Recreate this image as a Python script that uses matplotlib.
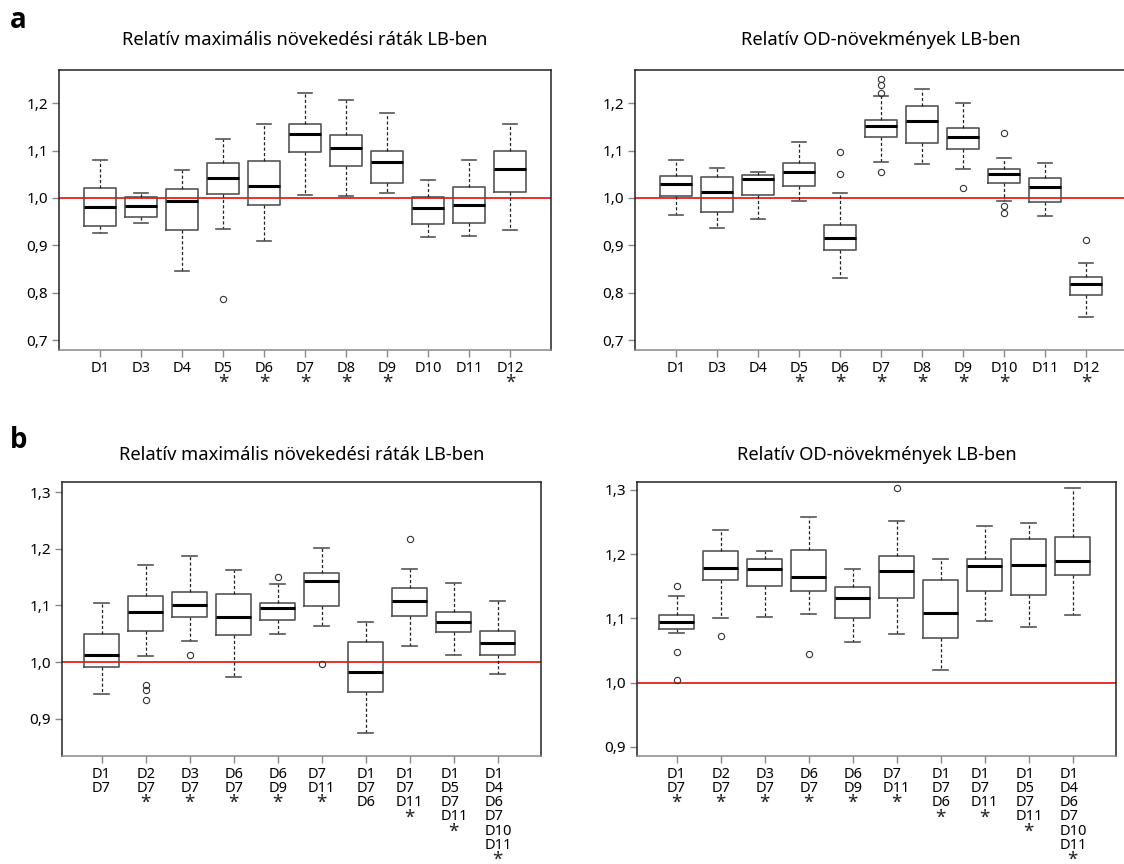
#!/usr/bin/env python3
"""
Relative growth rates and OD increments of deletion strains in LB (boxplots).
"""

import matplotlib
matplotlib.use("Agg")
import matplotlib.pyplot as plt

plt.rcParams['font.family'] = ['Noto Sans', 'DejaVu Sans']

# ---- panel a: single deletions ----
a_labels = ['D1', 'D3', 'D4', 'D5', 'D6', 'D7', 'D8', 'D9', 'D10', 'D11', 'D12']
a_rate_stars = [0, 0, 0, 1, 1, 1, 1, 1, 0, 0, 1]
a_od_stars = [0, 0, 0, 1, 1, 1, 1, 1, 1, 0, 1]

# relative max growth rate
a_rate_whislo = [0.927, 0.948, 0.846, 0.934, 0.910, 1.007, 1.004, 1.011, 0.917, 0.920, 0.933]
a_rate_q1 = [0.940, 0.959, 0.933, 1.009, 0.984, 1.096, 1.068, 1.032, 0.944, 0.948, 1.013]
a_rate_med = [0.980, 0.983, 0.994, 1.042, 1.025, 1.135, 1.106, 1.075, 0.978, 0.984, 1.061]
a_rate_q3 = [1.021, 1.002, 1.018, 1.074, 1.077, 1.157, 1.133, 1.100, 1.002, 1.024, 1.099]
a_rate_whishi = [1.081, 1.011, 1.059, 1.124, 1.157, 1.221, 1.206, 1.180, 1.038, 1.081, 1.157]
a_rate_fliers = [[], [], [], [0.787], [], [], [], [], [], [], []]

# relative OD increment
a_od_whislo = [0.965, 0.937, 0.955, 0.994, 0.831, 1.075, 1.071, 1.061, 0.994, 0.961, 0.749]
a_od_q1 = [1.004, 0.971, 1.006, 1.025, 0.891, 1.128, 1.116, 1.104, 1.032, 0.992, 0.795]
a_od_med = [1.030, 1.013, 1.039, 1.055, 0.915, 1.152, 1.163, 1.128, 1.051, 1.023, 0.818]
a_od_q3 = [1.047, 1.045, 1.049, 1.074, 0.943, 1.164, 1.195, 1.148, 1.061, 1.041, 0.834]
a_od_whishi = [1.080, 1.063, 1.054, 1.118, 1.011, 1.215, 1.229, 1.201, 1.085, 1.074, 0.863]
a_od_fliers = [[], [], [], [], [1.097, 1.051], [1.252, 1.239, 1.222, 1.054], [],
               [1.020], [1.136, 0.983, 0.968], [], [0.912]]

# ---- panel b: combined deletions ----
b_labels = ['D1\nD7', 'D2\nD7', 'D3\nD7', 'D6\nD7', 'D6\nD9', 'D7\nD11',
            'D1\nD7\nD6', 'D1\nD7\nD11', 'D1\nD5\nD7\nD11', 'D1\nD4\nD6\nD7\nD10\nD11']
b_rate_stars = [0, 1, 1, 1, 1, 1, 0, 1, 1, 1]
b_od_stars = [1, 1, 1, 1, 1, 1, 1, 1, 1, 1]

b_rate_whislo = [0.943, 1.010, 1.038, 0.973, 1.049, 1.064, 0.874, 1.029, 1.012, 0.979]
b_rate_q1 = [0.992, 1.055, 1.080, 1.047, 1.075, 1.099, 0.947, 1.082, 1.053, 1.012]
b_rate_med = [1.012, 1.088, 1.100, 1.079, 1.096, 1.143, 0.982, 1.108, 1.071, 1.034]
b_rate_q3 = [1.050, 1.117, 1.123, 1.121, 1.105, 1.158, 1.035, 1.131, 1.088, 1.055]
b_rate_whishi = [1.105, 1.171, 1.187, 1.163, 1.138, 1.201, 1.070, 1.164, 1.140, 1.108]
b_rate_fliers = [[], [0.959, 0.950, 0.933], [1.012], [], [1.151], [0.997], [],
                 [1.218], [], []]

b_od_whislo = [1.077, 1.101, 1.102, 1.106, 1.064, 1.076, 1.019, 1.096, 1.086, 1.105]
b_od_q1 = [1.084, 1.159, 1.151, 1.142, 1.100, 1.132, 1.069, 1.142, 1.137, 1.168]
b_od_med = [1.095, 1.178, 1.177, 1.165, 1.132, 1.174, 1.109, 1.181, 1.183, 1.189]
b_od_q3 = [1.105, 1.204, 1.193, 1.206, 1.149, 1.197, 1.160, 1.192, 1.223, 1.227]
b_od_whishi = [1.134, 1.237, 1.205, 1.258, 1.177, 1.252, 1.193, 1.244, 1.249, 1.302]
b_od_fliers = [[1.150, 1.047, 1.004], [1.072], [], [1.045], [], [1.302], [], [], [], []]

title_rate = 'Relatív maximális növekedési ráták LB-ben'
title_od = 'Relatív OD-növekmények LB-ben'

a_yticks = [0.7, 0.8, 0.9, 1.0, 1.1, 1.2]
b_yticks = [0.9, 1.0, 1.1, 1.2, 1.3]

W, H = 1124, 864
TICK_FS = 10.5
LINESP = 0.92


def make_stats(lo, q1, med, q3, hi, fliers):
    return [dict(whislo=lo[i], q1=q1[i], med=med[i], q3=q3[i], whishi=hi[i],
                 fliers=fliers[i]) for i in range(len(med))]


def draw_panel(ax, stats, labels, yticks, ylim, xlim, title, tpad):
    pos = list(range(1, len(stats) + 1))
    ax.axhline(1.0, color='#e8201c', lw=1.3, zorder=1)
    ax.bxp(stats, positions=pos, widths=0.8, capwidths=0.34, manage_ticks=False,
           boxprops=dict(color='#555555', lw=1.2),
           medianprops=dict(color='black', lw=2.2),
           whiskerprops=dict(color='#222222', lw=0.9, ls=(0, (2.5, 1.8))),
           capprops=dict(color='#555555', lw=1.2),
           flierprops=dict(marker='o', mfc='none', mec='#333333', ms=4.5, mew=0.8))
    ax.set_xlim(*xlim)
    ax.set_ylim(*ylim)
    ax.set_yticks(yticks)
    ax.set_yticklabels([f'{t:.1f}'.replace('.', ',') for t in yticks], fontsize=11)
    ax.set_xticks(pos)
    ax.set_xticklabels(labels, fontsize=TICK_FS, multialignment='left', linespacing=LINESP)
    ax.tick_params(axis='both', length=5, width=1.0, color='#888888', pad=3)
    for side in ['top', 'right', 'left']:
        ax.spines[side].set_color('#222222')
        ax.spines[side].set_linewidth(1.1)
    ax.spines['bottom'].set_color('#888888')
    ax.spines['bottom'].set_linewidth(1.1)
    ax.set_title(title, fontsize=13.2, pad=tpad)


def add_stars(fig, ax, stars):
    # significance marks just under each tick label block
    renderer = fig.canvas.get_renderer()
    inv = fig.transFigure.inverted()
    for lab, s in zip(ax.get_xticklabels(), stars):
        if not s:
            continue
        bb = lab.get_window_extent(renderer)
        x, y = inv.transform(((bb.x0 + bb.x1) / 2, bb.y0 + 2))
        fig.text(x, y, '*', ha='center', va='top', fontsize=TICK_FS + 3,
                 color='#222222')


fig = plt.figure(figsize=(W / 100, H / 100), dpi=100)

ax1 = fig.add_axes([59 / W, 1 - 350 / H, 492 / W, 280 / H])
ax2 = fig.add_axes([635 / W, 1 - 350 / H, 492 / W, 280 / H])
ax3 = fig.add_axes([62 / W, 1 - 756 / H, 479 / W, 274 / H])
ax4 = fig.add_axes([637 / W, 1 - 756 / H, 479 / W, 274 / H])

draw_panel(ax1, make_stats(a_rate_whislo, a_rate_q1, a_rate_med, a_rate_q3,
                           a_rate_whishi, a_rate_fliers),
           a_labels, a_yticks, (0.679, 1.270), (0, 12), title_rate, 18)
draw_panel(ax2, make_stats(a_od_whislo, a_od_q1, a_od_med, a_od_q3,
                           a_od_whishi, a_od_fliers),
           a_labels, a_yticks, (0.679, 1.270), (0, 12), title_od, 18)
draw_panel(ax3, make_stats(b_rate_whislo, b_rate_q1, b_rate_med, b_rate_q3,
                           b_rate_whishi, b_rate_fliers),
           b_labels, b_yticks, (0.834, 1.318), (0.1, 10.98), title_rate, 16)
draw_panel(ax4, make_stats(b_od_whislo, b_od_q1, b_od_med, b_od_q3,
                           b_od_whishi, b_od_fliers),
           b_labels, b_yticks, (0.886, 1.312), (0.1, 10.98), title_od, 16)

fig.text(10 / W, 1 - 20 / H, 'a', fontsize=20, fontweight='bold', va='center',
         family=['Open Sans', 'DejaVu Sans'])
fig.text(10 / W, 1 - 440 / H, 'b', fontsize=20, fontweight='bold', va='center',
         family=['Open Sans', 'DejaVu Sans'])

fig.canvas.draw()
add_stars(fig, ax1, a_rate_stars)
add_stars(fig, ax2, a_od_stars)
add_stars(fig, ax3, b_rate_stars)
add_stars(fig, ax4, b_od_stars)

fig.savefig('out.png', dpi=100)
